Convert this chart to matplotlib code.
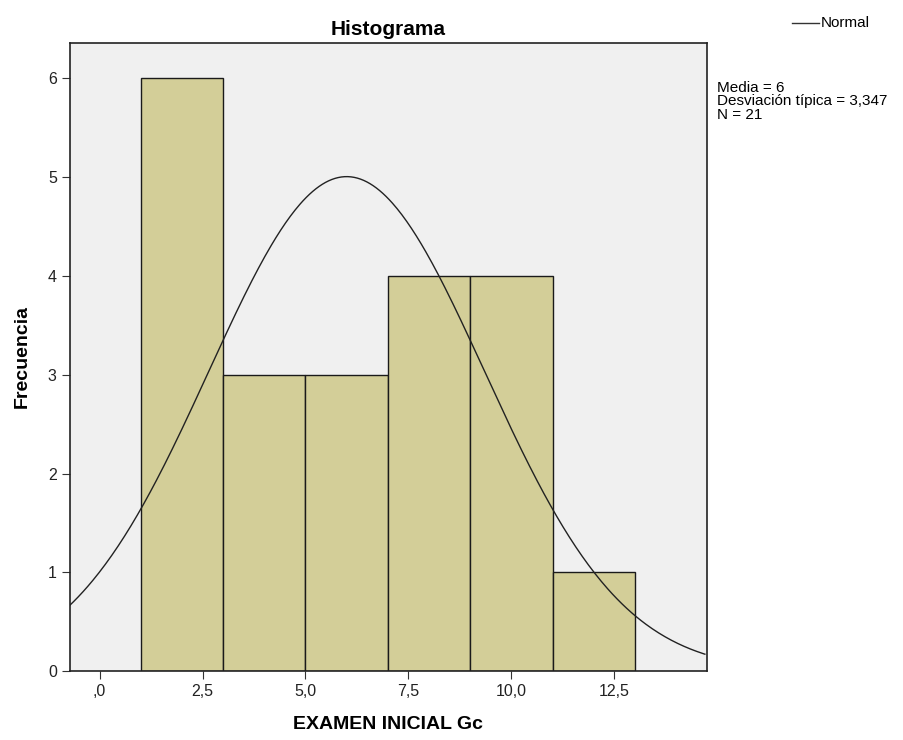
import numpy as np
import matplotlib.pyplot as plt
from matplotlib.lines import Line2D

plt.rcParams['font.family'] = ['Liberation Sans', 'DejaVu Sans']

# Data
bin_edges = [1, 3, 5, 7, 9, 11, 13]
counts = [6, 3, 3, 4, 4, 1]
media = 6
desv = 3.347
n = 21
xticks = [0, 2.5, 5, 7.5, 10, 12.5]
xtick_labels = [",0", "2,5", "5,0", "7,5", "10,0", "12,5"]
yticks = [0, 1, 2, 3, 4, 5, 6]

fig = plt.figure(figsize=(9.04, 7.4), dpi=100)
ax = fig.add_axes([0.0774, 0.0932, 0.7046, 0.8488])
ax.set_facecolor('#f0f0f0')

# Bars
lefts = np.array(bin_edges[:-1])
widths = np.diff(bin_edges)
ax.bar(lefts, counts, width=widths, align='edge', color='#d3ce98',
       edgecolor='#1a1a1a', linewidth=1.0, zorder=2)

# Normal curve
x = np.linspace(-0.75, 14.7, 400)
bw = widths[0]
y = n * bw / (desv * np.sqrt(2 * np.pi)) * np.exp(-0.5 * ((x - media) / desv) ** 2)
ax.plot(x, y, color='#222222', linewidth=1.0, zorder=3)

ax.set_xlim(-0.72, 14.75)
ax.set_ylim(0, 6.36)
ax.set_xticks(xticks)
ax.set_xticklabels(xtick_labels)
ax.set_yticks(yticks)
ax.tick_params(axis='both', labelsize=11.5, length=6, color='#333333', labelcolor='#222222')

for s in ax.spines.values():
    s.set_color('#222222')
    s.set_linewidth(1.2)

ax.set_title("Histograma", fontsize=15, fontweight='bold', pad=6)
ax.set_xlabel("EXAMEN INICIAL Gc", fontsize=14, fontweight='bold', labelpad=12)
ax.set_ylabel("Frecuencia", fontsize=14, fontweight='bold', labelpad=12)

# Legend on the right
fig.lines.append(Line2D([792 / 904, 819 / 904], [1 - 23 / 740, 1 - 23 / 740],
                        color='#333333', linewidth=1.0, transform=fig.transFigure))
fig.text(821 / 904, 1 - 23 / 740, "Normal", fontsize=11, va='center', ha='left')

fig.text(717 / 904, 1 - 81 / 740,
         "Media = 6\nDesviación típica = 3,347\nN = 21",
         fontsize=11, va='top', ha='left', linespacing=0.95)

plt.savefig("out.png", dpi=100)
